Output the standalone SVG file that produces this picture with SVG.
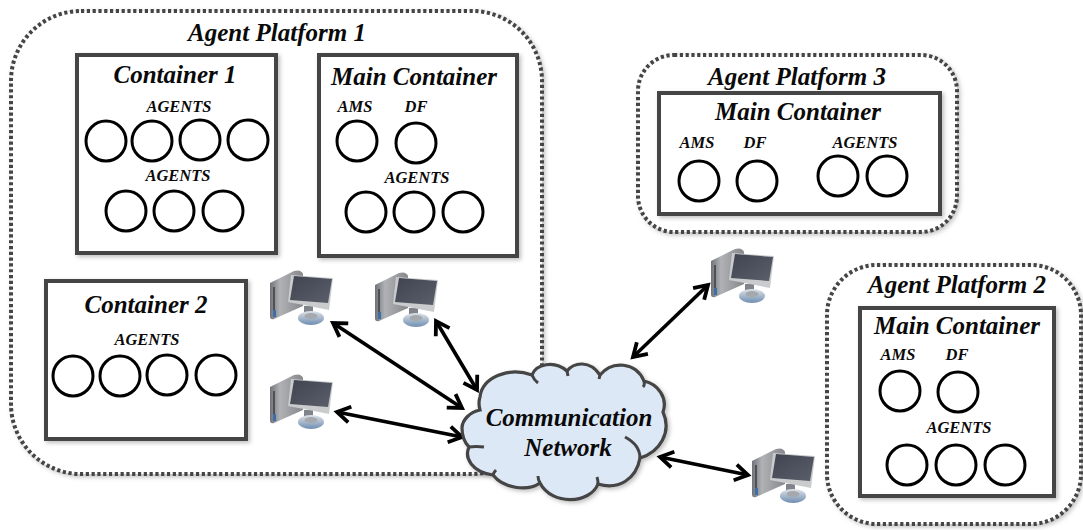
<svg xmlns="http://www.w3.org/2000/svg" width="1083" height="530" viewBox="0 0 1083 530">
<style>
text{font-family:"Liberation Serif","Times New Roman",serif;font-weight:bold;font-style:italic;fill:#0a0a0a;text-anchor:middle}
.t{font-size:25px}.s{font-size:16.5px}.n{font-size:25px}
.plat{fill:#fff;stroke:#444;stroke-width:4;stroke-dasharray:3.2 2.6;filter:url(#sh)}
.box{fill:#fff;stroke:#444;stroke-width:4;filter:url(#sh)}
circle{fill:#fff;stroke:#000;stroke-width:3}
.cn{fill:none;stroke:#000;stroke-width:3.6;marker-start:url(#a);marker-end:url(#a)}
</style>
<defs>
<filter id="sh" x="-5%" y="-5%" width="112%" height="112%"><feDropShadow dx="2" dy="2" stdDeviation="2" flood-color="#000" flood-opacity=".25"/></filter>
<marker id="a" markerUnits="userSpaceOnUse" markerWidth="22" markerHeight="22" refX="16" refY="10" orient="auto-start-reverse" viewBox="0 0 22 20"><path d="M3 2 L16 10 L3 18" fill="none" stroke="#000" stroke-width="3.8"/></marker>
<linearGradient id="tw" x1="0" x2="1" y1="0" y2="0"><stop offset="0" stop-color="#6f7278"/><stop offset=".3" stop-color="#b0b2b5"/><stop offset="1" stop-color="#85878a"/></linearGradient>
<linearGradient id="sc" x1="0" x2="1" y1="0" y2="1"><stop offset="0" stop-color="#3f4450"/><stop offset="1" stop-color="#5a5f6b"/></linearGradient>
<linearGradient id="st" x1="0" x2="0" y1="0" y2="1"><stop offset="0" stop-color="#dfe3e8"/><stop offset="1" stop-color="#6f8db0"/></linearGradient>
<symbol id="pc" width="66" height="56" viewBox="0 0 66 56" overflow="visible">
<path d="M0 14 L24 2 Q31 0 33 5 L33 37 L4 50 Q0 51 0 47 Z" fill="url(#tw)"/>
<rect x="3" y="18" width="2" height="28" fill="#4d5055"/>
<rect x="3" y="41" width="3" height="7" fill="#3c6fa8"/>
<rect x="34" y="37" width="9" height="10" fill="#80848a"/>
<ellipse cx="41" cy="49" rx="13" ry="7" fill="url(#st)"/>
<ellipse cx="41" cy="47" rx="6.5" ry="3" fill="#a5a9ae"/>
<path d="M21 6 L63 9 L59 41 L18 33 Z" fill="#c9cbcd"/>
<path d="M24 7 L62 10 L58 34 L20 31 Z" fill="url(#sc)"/>
</symbol>
</defs>
<rect width="1083" height="530" fill="#fff"/>

<g id="platform1"><rect class="plat" x="11" y="11" width="531" height="463" rx="70"/><text class="t" x="277" y="41">Agent Platform 1</text></g>
<g id="platform3"><rect class="plat" x="638" y="55" width="319" height="177" rx="36"/><text class="t" x="797" y="85">Agent Platform 3</text></g>
<g id="platform2"><rect class="plat" x="827" y="265" width="254" height="259" rx="50"/><text class="t" x="957" y="293">Agent Platform 2</text></g>

<g id="container1"><rect class="box" x="77" y="55" width="199" height="198"/><text class="t" x="175" y="83">Container 1</text><text class="s" x="179" y="112">AGENTS</text><circle cx="106" cy="141" r="20"/><circle cx="152" cy="141" r="20"/><circle cx="200" cy="140" r="20"/><circle cx="248" cy="140" r="20"/><text class="s" x="178" y="181">AGENTS</text><circle cx="126" cy="211" r="20"/><circle cx="174" cy="211" r="20"/><circle cx="223" cy="211" r="20"/></g>
<g id="mainContainer1"><rect class="box" x="319" y="55" width="198" height="201"/><text class="t" x="414" y="85">Main Container</text><text class="s" x="355" y="112">AMS</text><text class="s" x="416" y="112">DF</text><circle cx="357" cy="141" r="20"/><circle cx="416" cy="143" r="20"/><text class="s" x="417" y="183">AGENTS</text><circle cx="366" cy="212" r="20"/><circle cx="414" cy="212" r="20"/><circle cx="463" cy="212" r="20"/></g>
<g id="container2"><rect class="box" x="46" y="281" width="200" height="158"/><text class="t" x="146" y="313">Container 2</text><text class="s" x="147" y="345">AGENTS</text><circle cx="73" cy="376" r="20"/><circle cx="120" cy="376" r="20"/><circle cx="167" cy="375" r="20"/><circle cx="216" cy="375" r="20"/></g>
<g id="mainContainer3"><rect class="box" x="659" y="93" width="281" height="121"/><text class="t" x="798" y="120">Main Container</text><text class="s" x="697" y="148">AMS</text><text class="s" x="755" y="148">DF</text><circle cx="699" cy="181" r="20"/><circle cx="757" cy="181" r="20"/><text class="s" x="865" y="148">AGENTS</text><circle cx="838" cy="176" r="20"/><circle cx="887" cy="176" r="20"/></g>
<g id="mainContainer2"><rect class="box" x="860" y="308" width="194" height="188"/><text class="t" x="957" y="334">Main Container</text><text class="s" x="898" y="360">AMS</text><text class="s" x="957" y="360">DF</text><circle cx="900" cy="391" r="20"/><circle cx="958" cy="392" r="20"/><text class="s" x="959" y="433">AGENTS</text><circle cx="907" cy="465" r="20"/><circle cx="956" cy="465" r="20"/><circle cx="1005" cy="465" r="20"/></g>

<g id="computer1"><use href="#pc" x="270" y="269" width="66" height="56"/></g>
<g id="computer2"><use href="#pc" x="375" y="271" width="66" height="56"/></g>
<g id="computer3"><use href="#pc" x="270" y="373" width="66" height="56"/></g>
<g id="computer4"><use href="#pc" x="711" y="247" width="66" height="56"/></g>
<g id="computer5"><use href="#pc" x="752" y="447" width="66" height="56"/></g>

<g id="connectors">
<path class="cn" d="M333 323 L462 408"/>
<path class="cn" d="M436 321 L477 390"/>
<path class="cn" d="M337 412 L462 437"/>
<path class="cn" d="M633 357 L708 285"/>
<path class="cn" d="M660 457 L748 475"/>
</g>

<g id="cloud">
<path d="M480 410 C470 412 462 420 462 428 C462 437 466 444 469 447 C464 458 472 472 493 475 C503 488 527 492 540 483 C552 506 590 504 598 484 C618 490 636 480 640 458 C660 452 672 432 663 412 C668 398 658 384 644 381 C636 362 612 360 600 375 C590 360 574 362 567 371 C554 360 536 364 532 375 C508 366 482 378 480 397 Q478 403 480 410 Z" fill="#dce8f5" stroke="#444" stroke-width="3.2" filter="url(#sh)"/>
<path d="M469 447 Q476 446 484 447 M493 475 Q494 472 496 470 M625 437 Q640 445 640 458 M540 483 Q538 480 538 476 M598 484 Q598 480 597 477 M600 375 L599 379 M567 371 L568 376 M532 375 Q534 380 538 383 M644 381 Q645 385 643 387" fill="none" stroke="#444" stroke-width="3"/>
<text class="n" x="569" y="426">Communication</text>
<text class="n" x="568" y="456">Network</text>
</g>
</svg>
